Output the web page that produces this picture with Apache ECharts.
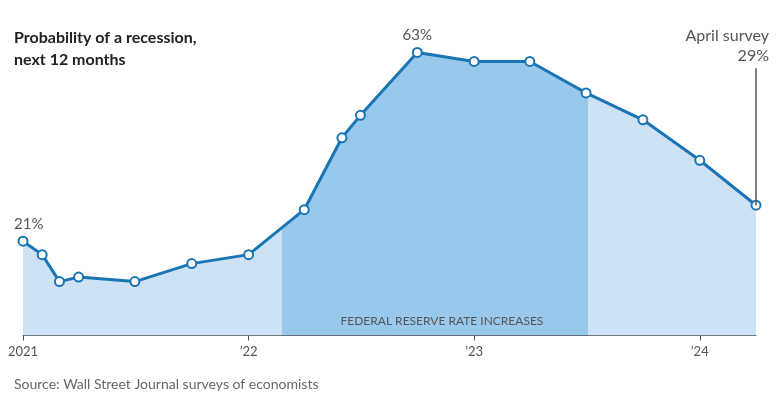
<!DOCTYPE html>
<html>
<head>
<meta charset="utf-8">
<script src="https://cdn.jsdelivr.net/npm/echarts@6/dist/echarts.min.js"></script>
<style>
html,body{margin:0;padding:0;background:#fff;}
#chart{width:780px;height:394px;}
</style>
</head>
<body>
<div id="chart"></div>
<script>
// Survey dates and recession probability (%)
const surveyDates = ['2021-01-01','2021-02-01','2021-03-01','2021-04-01','2021-07-01','2021-10-01',
  '2022-01-01','2022-04-01','2022-06-01','2022-07-01','2022-10-01',
  '2023-01-01','2023-04-01','2023-07-01','2023-10-01','2024-01-01','2024-04-01'];
const probabilities = [21,18,12,13,12,16,18,28,44,49,63,61,61,54,48,39,29];
// Year ticks and labels
const yearTicks = ['2021-01-01','2022-01-01','2023-01-01','2024-01-01'];
const yearLabels = ['2021','\u201922','\u201923','\u201924'];
// Federal Reserve rate-increase period
const hikeStart = '2022-02-24';
const hikeEnd = '2023-07-04';
const hikeLabel = 'FEDERAL RESERVE RATE INCREASES';
const titleText = 'Probability of a recession,\nnext 12 months';
const sourceText = 'Source: Wall Street Journal surveys of economists';
const lastLabel = 'April survey';

const FONT = 'Lato, "Noto Sans", sans-serif';
const LINE = '#1a75b5';
const LIGHT = '#cde2f5';
const DARK = '#98c9ec';
const TXT = '#555';

const ts = s => { const p = s.split('-').map(Number); return Date.UTC(p[0], p[1]-1, p[2]); };
const xs = surveyDates.map(ts);
const tickVals = yearTicks.map(ts);
const pairs = xs.map((x,i) => [x, probabilities[i]]);
const lastIdx = probabilities.length - 1;
const maxIdx = probabilities.indexOf(Math.max(...probabilities));

const lineData = pairs.map((p,i) => {
  const item = {value: p};
  if (i === 0) {
    item.label = {show: true, position: 'top', distance: 4, align: 'left', offset: [-9, 0],
      formatter: probabilities[i] + '%'};
  } else if (i === maxIdx) {
    item.label = {show: true, position: 'top', distance: 4, formatter: probabilities[i] + '%'};
  }
  return item;
});

const chart = echarts.init(document.getElementById('chart'));
chart.setOption({
  animation: false,
  backgroundColor: '#fff',
  textStyle: {fontFamily: FONT},
  title: {
    text: titleText, left: 14, top: 27, padding: 0,
    textStyle: {fontFamily: FONT, fontSize: 16, fontWeight: 'bold', color: '#222', lineHeight: 22}
  },
  graphic: [{
    type: 'text', left: 14, top: 377,
    style: {text: sourceText, fill: '#666', font: '14px ' + FONT}
  }],
  grid: {left: 23, right: 24, top: 21, bottom: 58.5},
  xAxis: {
    type: 'value',
    min: xs[0], max: xs[lastIdx],
    axisLine: {show: true, lineStyle: {color: '#555', width: 1}},
    axisTick: {show: true, length: 5, lineStyle: {color: '#555'}, customValues: tickVals},
    axisLabel: {
      customValues: tickVals, color: TXT, fontSize: 13, fontFamily: FONT, margin: 10,
      formatter: v => { const k = tickVals.indexOf(v); return k >= 0 ? yearLabels[k] : ''; }
    },
    splitLine: {show: false}
  },
  yAxis: {type: 'value', min: 0, max: 70, show: false, splitLine: {show: false}},
  visualMap: {
    type: 'piecewise', show: false, dimension: 0, seriesIndex: 0,
    pieces: [{gte: ts(hikeStart), lt: ts(hikeEnd), color: DARK}],
    outOfRange: {color: LIGHT}
  },
  series: [
    {
      type: 'line', data: pairs, symbol: 'none', silent: true,
      lineStyle: {width: 0}, areaStyle: {opacity: 1}, z: 1,
      markArea: {
        silent: true,
        itemStyle: {color: 'rgba(0,0,0,0)'},
        label: {show: true, position: 'insideBottom', distance: 8, offset: [7, 0], color: TXT,
          fontSize: 12, fontFamily: FONT},
        data: [[{name: hikeLabel, xAxis: ts(hikeStart)}, {xAxis: ts(hikeEnd)}]]
      }
    },
    {
      type: 'line', data: lineData, z: 3,
      lineStyle: {color: LINE, width: 3},
      symbol: 'circle', symbolSize: 9, showAllSymbol: true,
      itemStyle: {color: '#fff', borderColor: LINE, borderWidth: 2},
      label: {color: TXT, fontSize: 15, fontFamily: FONT},
      markLine: {
        silent: true, symbol: 'none',
        lineStyle: {color: '#555', width: 1.5, type: 'solid'},
        label: {show: true, position: 'end', align: 'right', offset: [13, 3], color: TXT,
          fontSize: 16, fontFamily: FONT, lineHeight: 20,
          formatter: lastLabel + '\n' + probabilities[lastIdx] + '%'},
        data: [[{coord: [xs[lastIdx], probabilities[lastIdx]]}, {coord: [xs[lastIdx], 59.5]}]]
      }
    }
  ]
});
</script>
</body>
</html>
